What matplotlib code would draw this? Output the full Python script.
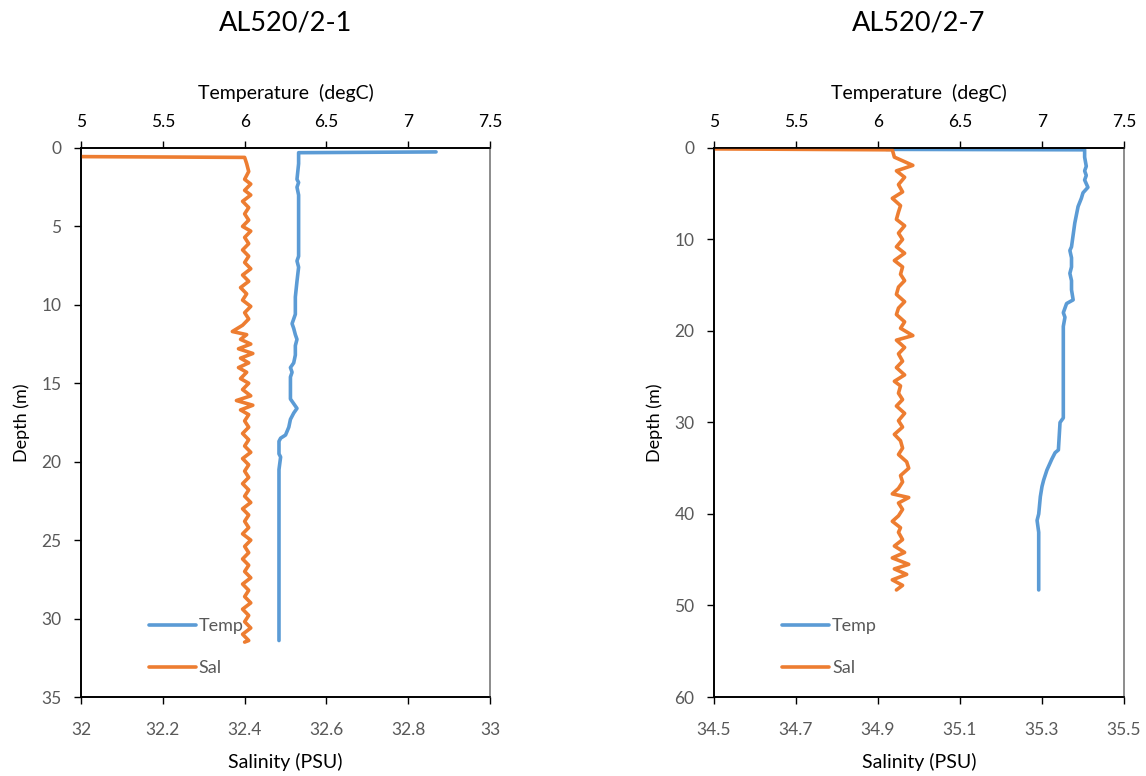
import matplotlib
matplotlib.use('Agg')
import matplotlib.pyplot as plt

plt.rcParams['font.family'] = ['Lato', 'DejaVu Sans']

# ---- Estación AL520/2-1 ----
titulo_1 = 'AL520/2-1'
temp_prof_1 = [0.25, 0.3, 1.0, 2.0, 2.2, 2.5, 3.0, 5.0, 6.9, 7.2, 7.6, 8.5, 9.5, 10.6,
               11.2, 11.5, 11.9, 12.2, 12.6, 13.2, 13.7, 14.0, 14.3, 14.6, 15.0, 16.0,
               16.6, 16.9, 17.3, 17.8, 18.3, 18.5, 18.7, 19.5, 19.7, 20.5, 31.4]
temp_1 = [7.17, 6.33, 6.33, 6.32, 6.33, 6.32, 6.33, 6.33, 6.33, 6.32, 6.33, 6.32, 6.31, 6.31,
          6.29, 6.30, 6.31, 6.32, 6.31, 6.31, 6.30, 6.28, 6.29, 6.28, 6.28, 6.28,
          6.32, 6.30, 6.28, 6.27, 6.25, 6.22, 6.21, 6.21, 6.22, 6.21, 6.21]
sal_prof_1 = [0.55, 0.6, 1.0, 1.5, 2.0, 2.3, 2.7, 3.0, 3.4, 3.8, 4.2, 4.6, 5.0, 5.3, 5.7,
              6.1, 6.5, 6.9, 7.3, 7.7, 8.1, 8.5, 8.9, 9.3, 9.7, 10.1, 10.5, 10.9, 11.3,
              11.7, 11.9, 12.2, 12.5, 12.8, 13.1, 13.4, 13.7, 14.0, 14.3, 14.7, 15.0,
              15.4, 15.8, 16.1, 16.4, 16.7, 17.0, 17.4, 17.8, 18.2, 18.6, 19.0, 19.4,
              19.8, 20.2, 20.6, 21.0, 21.4, 21.8, 22.2, 22.6, 23.0, 23.4, 23.8, 24.2,
              24.6, 25.0, 25.4, 25.8, 26.2, 26.6, 27.0, 27.4, 27.8, 28.2, 28.6, 29.0,
              29.4, 29.8, 30.2, 30.6, 31.0, 31.4, 31.5]
sal_1 = [32.00, 32.40, 32.405, 32.41, 32.40, 32.415, 32.40, 32.415, 32.395, 32.41, 32.40,
         32.41, 32.395, 32.415, 32.40, 32.41, 32.395, 32.41, 32.40, 32.415, 32.395, 32.41,
         32.39, 32.405, 32.395, 32.415, 32.40, 32.41, 32.395, 32.37, 32.405, 32.39,
         32.415, 32.385, 32.42, 32.39, 32.41, 32.385, 32.405, 32.39, 32.41, 32.395,
         32.415, 32.38, 32.42, 32.39, 32.41, 32.40, 32.41, 32.395, 32.41, 32.40, 32.415,
         32.395, 32.41, 32.40, 32.41, 32.395, 32.41, 32.40, 32.415, 32.395, 32.41, 32.40,
         32.41, 32.395, 32.415, 32.40, 32.41, 32.395, 32.41, 32.40, 32.415, 32.395,
         32.41, 32.40, 32.415, 32.395, 32.41, 32.40, 32.415, 32.395, 32.41, 32.40]
sal_ticks_1 = [32, 32.2, 32.4, 32.6, 32.8, 33]
sal_ticklabels_1 = ['32', '32.2', '32.4', '32.6', '32.8', '33']
prof_ticks_1 = [0, 5, 10, 15, 20, 25, 30, 35]

# ---- Estación AL520/2-7 ----
titulo_2 = 'AL520/2-7'
temp_prof_2 = [0.15, 0.2, 1.0, 2.0, 2.5, 3.0, 3.5, 4.3, 4.9, 5.5, 6.4, 7.3, 8.2, 9.5, 10.8,
               11.2, 12.0, 13.0, 13.7, 14.5, 15.5, 16.6, 17.0, 17.5, 18.0, 18.5, 19.5,
               21.0, 23.0, 26.0, 29.5, 30.0, 33.0, 33.3, 34.0, 35.2, 36.3, 37.0, 38.1,
               40.0, 40.7, 42.0, 44.0, 46.0, 48.3]
temp_2 = [6.05, 7.26, 7.26, 7.27, 7.26, 7.27, 7.26, 7.28, 7.25, 7.24, 7.22, 7.21, 7.20, 7.19,
          7.18, 7.17, 7.18, 7.18, 7.17, 7.18, 7.18, 7.19, 7.15, 7.14, 7.13, 7.14, 7.13,
          7.13, 7.13, 7.13, 7.13, 7.11, 7.10, 7.08, 7.06, 7.03, 7.01, 7.00, 6.99,
          6.98, 6.97, 6.98, 6.98, 6.98, 6.98]
sal_prof_2 = [0.1, 0.2, 1.0, 1.9, 2.5, 3.2, 4.0, 4.8, 5.5, 6.3, 7.0, 7.8, 8.5, 9.3, 10.0,
              10.8, 11.5, 12.3, 13.0, 13.8, 14.5, 15.2, 16.0, 16.8, 17.5, 18.2, 19.0,
              19.7, 20.5, 21.0, 21.8, 22.5, 23.3, 24.0, 24.8, 25.5, 26.0, 26.8, 27.5,
              28.2, 29.0, 29.8, 30.5, 31.3, 32.0, 32.8, 33.5, 34.3, 35.0, 35.8, 36.5,
              37.2, 37.8, 38.2, 38.8, 39.5, 40.2, 40.8, 41.5, 42.0, 42.8, 43.5, 44.2,
              44.8, 45.5, 46.0, 46.6, 47.2, 47.8, 48.3]
sal_2 = [34.50, 34.935, 34.94, 34.985, 34.945, 34.965, 34.95, 34.96, 34.935, 34.955, 34.95,
         34.945, 34.965, 34.95, 34.96, 34.945, 34.965, 34.94, 34.96, 34.955, 34.965,
         34.95, 34.945, 34.965, 34.95, 34.945, 34.965, 34.955, 34.985, 34.945, 34.965,
         34.95, 34.96, 34.945, 34.965, 34.94, 34.955, 34.95, 34.96, 34.945, 34.965,
         34.95, 34.96, 34.94, 34.955, 34.96, 34.95, 34.97, 34.975, 34.955, 34.96, 34.95,
         34.935, 34.975, 34.95, 34.96, 34.95, 34.935, 34.955, 34.95, 34.96, 34.94,
         34.965, 34.935, 34.975, 34.94, 34.97, 34.935, 34.96, 34.945]
sal_ticks_2 = [34.5, 34.7, 34.9, 35.1, 35.3, 35.5]
sal_ticklabels_2 = ['34.5', '34.7', '34.9', '35.1', '35.3', '35.5']
prof_ticks_2 = [0, 10, 20, 30, 40, 50, 60]

temp_ticks = [5, 5.5, 6, 6.5, 7, 7.5]
temp_ticklabels = ['5', '5.5', '6', '6.5', '7', '7.5']

AZUL = '#5B9BD5'
NARANJA = '#ED7D31'
GRIS = '#595959'


def panel(fig, rect, titulo, tp, t, sp, s, sal_ticks, sal_labels, prof_ticks):
    ax = fig.add_axes(rect)
    ax_t = ax.twiny()

    linea_t, = ax_t.plot(t, tp, color=AZUL, lw=2.6, solid_capstyle='round',
                         solid_joinstyle='round', label='Temp')
    linea_s, = ax.plot(s, sp, color=NARANJA, lw=2.6, solid_capstyle='round',
                       solid_joinstyle='round', label='Sal')
    ax.set_zorder(ax_t.get_zorder() + 1)
    ax.patch.set_visible(False)

    ax.set_xlim(sal_ticks[0], sal_ticks[-1])
    ax.set_xticks(sal_ticks)
    ax.set_xticklabels(sal_labels)
    ax.set_ylim(prof_ticks[-1], prof_ticks[0])
    ax.set_yticks(prof_ticks)
    ax_t.set_xlim(temp_ticks[0], temp_ticks[-1])
    ax_t.set_xticks(temp_ticks)
    ax_t.set_xticklabels(temp_ticklabels)

    ax.set_xlabel('Salinity (PSU)', fontsize=14, labelpad=11)
    ax.set_ylabel('Depth (m)', fontsize=13, labelpad=8)
    ax_t.set_xlabel('Temperature  (degC)', fontsize=14, labelpad=11)

    for a in (ax, ax_t):
        a.tick_params(direction='out', length=5, width=1, colors='black',
                      labelcolor=GRIS, labelsize=12.5)
        for sp_ in a.spines.values():
            sp_.set_color('black')
            sp_.set_linewidth(1.2)
        a.spines['right'].set_color('#8c8c8c')
    ax.tick_params(axis='x', pad=13)
    ax.tick_params(axis='y', pad=9)
    ax_t.tick_params(axis='x', pad=8, labelcolor='black')

    ax.legend([linea_t, linea_s], ['Temp', 'Sal'], loc='lower left',
              bbox_to_anchor=(0.127, 0.008), frameon=False, fontsize=13,
              labelcolor=GRIS, handlelength=2.6, handletextpad=0.15,
              labelspacing=1.45)

    fig.text(rect[0] + rect[2] / 2, 0.97, titulo, ha='center', va='center',
             fontsize=19.5, color='black')


fig = plt.figure(figsize=(11.46, 7.76), dpi=100)
panel(fig, [0.0707, 0.1018, 0.3569, 0.7075], titulo_1, temp_prof_1, temp_1,
      sal_prof_1, sal_1, sal_ticks_1, sal_ticklabels_1, prof_ticks_1)
panel(fig, [0.6230, 0.1018, 0.3578, 0.7075], titulo_2, temp_prof_2, temp_2,
      sal_prof_2, sal_2, sal_ticks_2, sal_ticklabels_2, prof_ticks_2)

fig.savefig('out.png', dpi=100)
